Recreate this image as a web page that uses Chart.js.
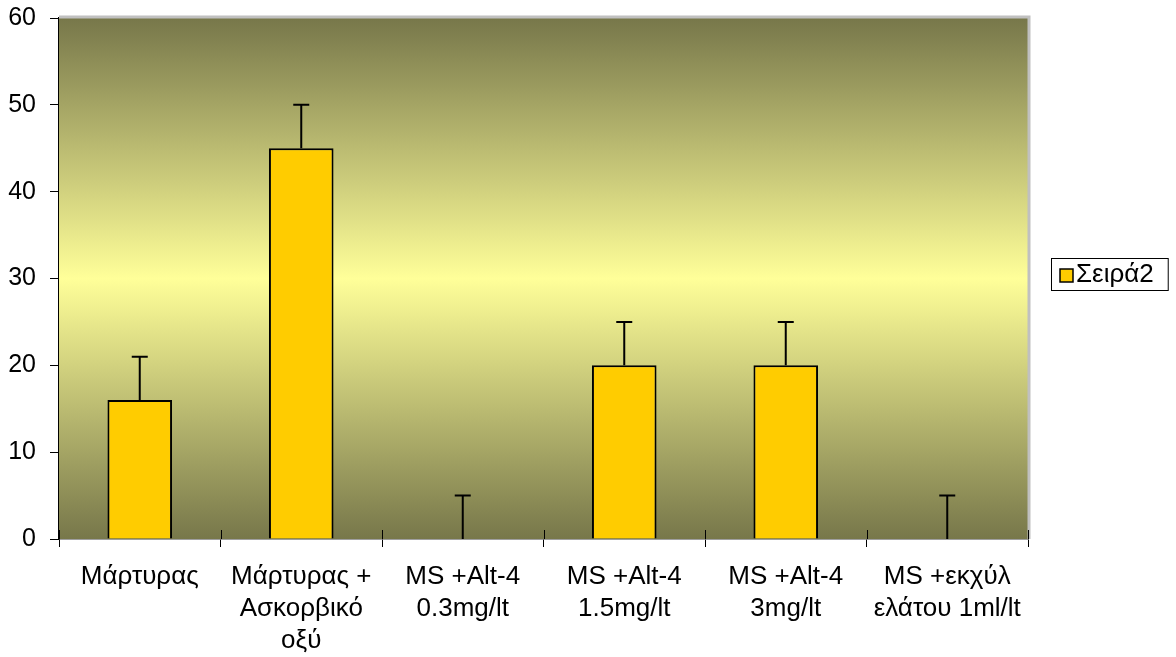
<!DOCTYPE html>
<html>
<head>
<meta charset="utf-8">
<script src="https://cdn.jsdelivr.net/npm/chart.js@4.4.1/dist/chart.umd.min.js"></script>
<style>
  html, body { margin: 0; padding: 0; background: #ffffff; }
  #wrap { width: 1176px; height: 657px; }
</style>
</head>
<body>
<div id="wrap"><canvas id="c" width="1176" height="657"></canvas></div>
<script>
// Categories (multi-line labels under each bar)
const categories = [
  ["Μάρτυρας"],
  ["Μάρτυρας +", "Ασκορβικό", "οξύ"],
  ["MS +Alt-4", "0.3mg/lt"],
  ["MS +Alt-4", "1.5mg/lt"],
  ["MS +Alt-4", "3mg/lt"],
  ["MS +εκχύλ", "ελάτου 1ml/lt"]
];
const seriesName = "Σειρά2";
const values = [16, 45, 0, 20, 20, 0];
const errorsPlus = [5, 5, 5, 5, 5, 5];
const yTicks = [0, 10, 20, 30, 40, 50, 60];

const FONT = "'Liberation Sans', Arial, sans-serif";

// Plot background: dark olive at the edges, pale yellow in the middle
const plotBackground = {
  id: 'plotBackground',
  beforeDatasetsDraw(chart) {
    const { ctx, chartArea: a } = chart;
    const g = ctx.createLinearGradient(0, a.top, 0, a.bottom);
    g.addColorStop(0, '#77774a');
    g.addColorStop(0.5, '#ffff99');
    g.addColorStop(1, '#77774a');
    ctx.save();
    ctx.fillStyle = g;
    ctx.fillRect(a.left, a.top, a.right - a.left, a.bottom - a.top);
    // light frame on top and right edge
    ctx.strokeStyle = '#c0c0c0';
    ctx.lineWidth = 3;
    ctx.beginPath();
    ctx.moveTo(a.left, a.top - 1);
    ctx.lineTo(a.right + 1, a.top - 1);
    ctx.lineTo(a.right + 1, a.bottom);
    ctx.stroke();
    // inner halves of the category tick marks
    const xs = chart.scales.x;
    ctx.strokeStyle = '#000';
    ctx.lineWidth = 1;
    ctx.beginPath();
    for (let i = 0; i <= categories.length; i++) {
      const px = Math.round(xs.left + (xs.right - xs.left) * i / categories.length) + 0.5;
      ctx.moveTo(px, a.bottom - 9);
      ctx.lineTo(px, a.bottom);
    }
    ctx.stroke();
    ctx.restore();
  }
};

// Upper error bars with caps
const errorBars = {
  id: 'errorBars',
  afterDatasetsDraw(chart) {
    const { ctx } = chart;
    const meta = chart.getDatasetMeta(0);
    const ys = chart.scales.y;
    ctx.save();
    ctx.strokeStyle = '#000';
    ctx.lineWidth = 2;
    meta.data.forEach((bar, i) => {
      const y0 = ys.getPixelForValue(values[i]);
      const y1 = ys.getPixelForValue(values[i] + errorsPlus[i]);
      ctx.beginPath();
      ctx.moveTo(bar.x, y0);
      ctx.lineTo(bar.x, y1);
      ctx.moveTo(bar.x - 8, y1);
      ctx.lineTo(bar.x + 8, y1);
      ctx.stroke();
    });
    ctx.restore();
  }
};

// Boxed legend to the right of the plot
const boxLegend = {
  id: 'boxLegend',
  afterDraw(chart) {
    const { ctx, chartArea: a } = chart;
    const ds = chart.data.datasets[0];
    ctx.save();
    ctx.font = '26px ' + FONT;
    const tw = ctx.measureText(ds.label).width;
    const h = 32;
    const x = a.right + 23;
    const y = Math.round((a.top + a.bottom) / 2) - 21;
    const w = 25 + tw + 14;
    ctx.fillStyle = '#fff';
    ctx.fillRect(x + 0.5, y + 0.5, w, h);
    ctx.strokeStyle = '#000';
    ctx.lineWidth = 1;
    ctx.strokeRect(x + 0.5, y + 0.5, w, h);
    ctx.fillStyle = ds.backgroundColor;
    ctx.fillRect(x + 9, y + 11, 13, 13);
    ctx.lineWidth = 1.5;
    ctx.strokeRect(x + 9, y + 11, 13, 13);
    ctx.fillStyle = '#000';
    ctx.textBaseline = 'middle';
    ctx.fillText(ds.label, x + 25, y + h / 2 + 1);
    ctx.restore();
  }
};

new Chart(document.getElementById('c'), {
  type: 'bar',
  data: {
    labels: categories,
    datasets: [{
      label: seriesName,
      data: values,
      backgroundColor: '#ffcc00',
      borderColor: '#000000',
      borderWidth: 2,
      borderSkipped: 'bottom',
      barPercentage: 0.4,
      categoryPercentage: 1.0
    }]
  },
  options: {
    responsive: false,
    animation: false,
    devicePixelRatio: 1,
    layout: { padding: { top: 18, right: 148, left: 0, bottom: 0 } },
    plugins: { legend: { display: false }, tooltip: { enabled: false } },
    scales: {
      x: {
        offset: true,
        grid: { offset: true, drawOnChartArea: false, tickLength: 8, color: '#000', lineWidth: 1 },
        border: { display: true, color: '#404040', width: 1.5 },
        ticks: {
          color: '#000',
          font: { family: FONT, size: 26, lineHeight: 1.23 },
          padding: 14,
          maxRotation: 0,
          autoSkip: false
        },
        afterFit(scale) {
          scale.height = 118;
          scale.paddingLeft = 0;
          scale.paddingRight = 0;
        }
      },
      y: {
        min: yTicks[0],
        max: yTicks[yTicks.length - 1],
        afterBuildTicks(scale) { scale.ticks = yTicks.map(v => ({ value: v })); },
        grid: { drawOnChartArea: false, tickLength: 9, color: '#000', lineWidth: 1 },
        border: { display: true, color: '#000', width: 1.5 },
        ticks: {
          color: '#000',
          font: { family: FONT, size: 25 },
          padding: 14
        },
        afterFit(scale) {
          scale.width = 59;
          scale.paddingTop = 0;
          scale.paddingBottom = 0;
        }
      }
    }
  },
  plugins: [plotBackground, errorBars, boxLegend]
});
</script>
</body>
</html>
